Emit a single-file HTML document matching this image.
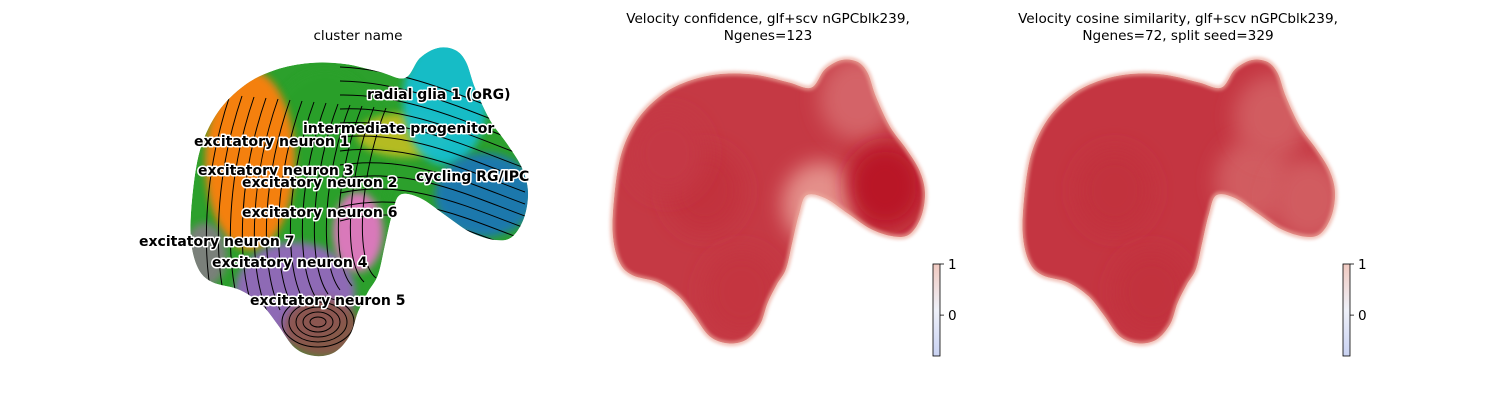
<!DOCTYPE html>
<html><head><meta charset="utf-8">
<style>
html,body{margin:0;padding:0;background:#fff;}
svg{display:block;font-family:"DejaVu Sans","Liberation Sans",sans-serif;}
.lbl{font-weight:bold;font-size:14px;fill:#000;stroke:#fff;stroke-width:3px;paint-order:stroke;stroke-linejoin:round;}
.ttl{font-size:13.6px;fill:#000;text-anchor:middle;}
</style></head>
<body>
<svg id="chart" width="1500" height="400" viewBox="0 0 1500 400">
<defs>
<filter id="blur6" x="-50%" y="-50%" width="200%" height="200%"><feGaussianBlur stdDeviation="10"/></filter>
<filter id="blur3" x="-50%" y="-50%" width="200%" height="200%"><feGaussianBlur stdDeviation="4"/></filter>
<filter id="blur1" x="-10%" y="-10%" width="120%" height="120%"><feGaussianBlur stdDeviation="1.5"/></filter>
<linearGradient id="cbgrad" x1="0" y1="1" x2="0" y2="0">
<stop offset="0" stop-color="#c9d2f2"/><stop offset="0.5" stop-color="#eef0f8"/><stop offset="1" stop-color="#f0c9c0"/>
</linearGradient>
</defs>
<g id="panels"></g>
<text class="ttl" x="358" y="40">cluster name</text>
<text class="ttl" x="768" y="23">Velocity confidence, glf+scv nGPCblk239,</text>
<text class="ttl" x="768" y="40">Ngenes=123</text>
<text class="ttl" x="1178" y="23">Velocity cosine similarity, glf+scv nGPCblk239,</text>
<text class="ttl" x="1178" y="40">Ngenes=72, split seed=329</text>
</svg>
<script>
// Embedding outline (UMAP-like data units)
const outlineX = [245,275,310,345,380,405,420,438,455,466,475,490,508,522,528,524,512,495,470,445,420,400,392,385,378,368,358,350,335,315,295,278,262,240,212,198,191,192,200,218];
const outlineY = [85,70,63,64,72,78,58,48,50,62,88,120,145,168,192,218,237,240,232,215,198,195,215,245,275,292,312,335,352,356,348,325,305,290,282,268,240,200,150,112];
const clusterNames = ["excitatory neuron 1","excitatory neuron 3","excitatory neuron 7","excitatory neuron 4","excitatory neuron 5","excitatory neuron 6","intermediate progenitor","radial glia 1 (oRG)","cycling RG/IPC"];
const clusterCX = [325,250,205,295,322,358,405,445,485];
const clusterCY = [165,160,255,292,328,232,135,100,195];
const clusterRX = [65,45,22,60,38,25,48,42,50];
const clusterRY = [95,90,32,50,30,40,22,65,42];
const clusterColors = ["#2ca02c","#ff7f0e","#7f7f7f","#9467bd","#8c564b","#e377c2","#bcbd22","#17becf","#1f77b4"];
const labelText = ["radial glia 1 (oRG)","intermediate progenitor","excitatory neuron 1","excitatory neuron 3","excitatory neuron 2","cycling RG/IPC","excitatory neuron 6","excitatory neuron 7","excitatory neuron 4","excitatory neuron 5"];
const labelX = [367,303,194,198,242,416,242,139,212,250];
const labelY = [95,129,142,171,183,177,213,242,263,301];
const confX = [290,415,455,485,330,250];
const confY = [190,205,90,185,300,150];
const confV = [0.85,0.3,0.55,1.0,0.82,0.8];
const cosX = [290,440,460,500,330];
const cosY = [190,180,110,200,300];
const cosV = [0.85,0.6,0.6,0.6,0.85];
const cbTicks = [1,0];
const cbMin = -0.8, cbMax = 1;

const NS = "http://www.w3.org/2000/svg";
const root = document.getElementById('panels');
function mk(tag, attrs, parent){const e=document.createElementNS(NS,tag);for(const k in attrs)e.setAttribute(k,attrs[k]);(parent||root).appendChild(e);return e;}
function makeAxes(x0,y0,s){return {x:v=>x0+(v-190)*s.sx, y:v=>y0+(v-48)*s.sy, s};}
const axes = [makeAxes(190,48,{sx:1,sy:1}), makeAxes(612,60,{sx:0.926,sy:0.92}), makeAxes(1022,60,{sx:0.926,sy:0.92})];
function outlinePath(ax){
  const P=outlineX.map((v,i)=>[ax.x(v),ax.y(outlineY[i])]);const n=P.length;
  let d='M'+P[0][0].toFixed(1)+','+P[0][1].toFixed(1);
  for(let i=0;i<n;i++){const p0=P[(i-1+n)%n],p1=P[i],p2=P[(i+1)%n],p3=P[(i+2)%n];
    const c1=[p1[0]+(p2[0]-p0[0])/6,p1[1]+(p2[1]-p0[1])/6],c2=[p2[0]-(p3[0]-p1[0])/6,p2[1]-(p3[1]-p1[1])/6];
    d+=`C${c1[0].toFixed(1)},${c1[1].toFixed(1)} ${c2[0].toFixed(1)},${c2[1].toFixed(1)} ${p2[0].toFixed(1)},${p2[1].toFixed(1)}`;}
  return d+'Z';}
function redColor(v){const a=[246,195,180],b=[185,22,40];const t=Math.max(0,Math.min(1,v));return 'rgb('+a.map((c,i)=>Math.round(c+(b[i]-c)*t)).join(',')+')';}

(function(){
  const ax=axes[0];
  const cp=mk('clipPath',{id:'clip0'},document.querySelector('defs'));
  mk('path',{d:outlinePath(ax)},cp);
  const g=mk('g',{'clip-path':'url(#clip0)'});
  
  
  mk('path',{d:outlinePath(ax),fill:'#2ca02c'},g);
  clusterCX.forEach((cx,i)=>{
    const e=mk('ellipse',{cx:ax.x(cx),cy:ax.y(clusterCY[i]),rx:clusterRX[i],ry:clusterRY[i],fill:clusterColors[i],opacity:0.95,filter:'url(#blur3)'},g);
    
    
  });
  const sg=mk('g',{fill:'none',stroke:'#000','stroke-width':1},g);
  
  
  for(let k=0;k<12;k++){
    const y=75+k*12;
    mk('path',{d:`M${ax.x(525)},${ax.y(y+45)} C${ax.x(470)},${ax.y(y+25)} ${ax.x(410)},${ax.y(y-5)} ${ax.x(340)},${ax.y(y-8+k*2)}`},sg);
  }
  for(let k=0;k<14;k++){
    const x=205+k*12;
    mk('path',{d:`M${ax.x(x+15)},${ax.y(330-k*4)} C${ax.x(x-8)},${ax.y(260)} ${ax.x(x)},${ax.y(170)} ${ax.x(x+25)},${ax.y(95+k)}`},sg);
  }
  for(let k=0;k<5;k++){
    mk('ellipse',{cx:ax.x(318),cy:ax.y(322),rx:8+k*7,ry:5+k*5},sg);
  }
  labelText.forEach((t,i)=>{
    const e=mk('text',{class:'lbl',x:labelX[i],y:labelY[i],'dominant-baseline':'middle'});
    e.textContent=t;
    
    
  });
})();

function heatPanel(idx,px,py,pv,base,cbx){
  const ax=axes[idx];
  const cp=mk('clipPath',{id:'clip'+idx},document.querySelector('defs'));
  mk('path',{d:outlinePath(ax)},cp);
  const g=mk('g',{'clip-path':'url(#clip'+idx+')'});
  
  
  mk('path',{d:outlinePath(ax),fill:redColor(base)},g);
  px.forEach((x,i)=>{
    const e=mk('ellipse',{cx:ax.x(x),cy:ax.y(py[i]),rx:38,ry:42,fill:redColor(pv[i]),filter:'url(#blur6)'},g);
    
    
  });
  const o=mk('path',{d:outlinePath(ax),fill:'none',stroke:'#eca99c','stroke-width':5,opacity:0.7,filter:'url(#blur1)'});
  
  
  const top=264,bot=356;
  const cy=v=>bot-(v-cbMin)/(cbMax-cbMin)*(bot-top);
  const cb=mk('rect',{x:cbx,y:top,width:7,height:bot-top,fill:'url(#cbgrad)',stroke:'#000','stroke-width':0.8});
  
  
  cbTicks.forEach(t=>{
    mk('line',{x1:cbx+7,x2:cbx+11,y1:cy(t),y2:cy(t),stroke:'#000','stroke-width':0.8});
    const tx=mk('text',{x:cbx+15,y:cy(t)+5,'font-size':'13.6px'});
    tx.textContent=String(t);
    
    
  });
}
heatPanel(1,confX,confY,confV,0.8,933);
heatPanel(2,cosX,cosY,cosV,0.82,1343);
</script>
</body></html>
